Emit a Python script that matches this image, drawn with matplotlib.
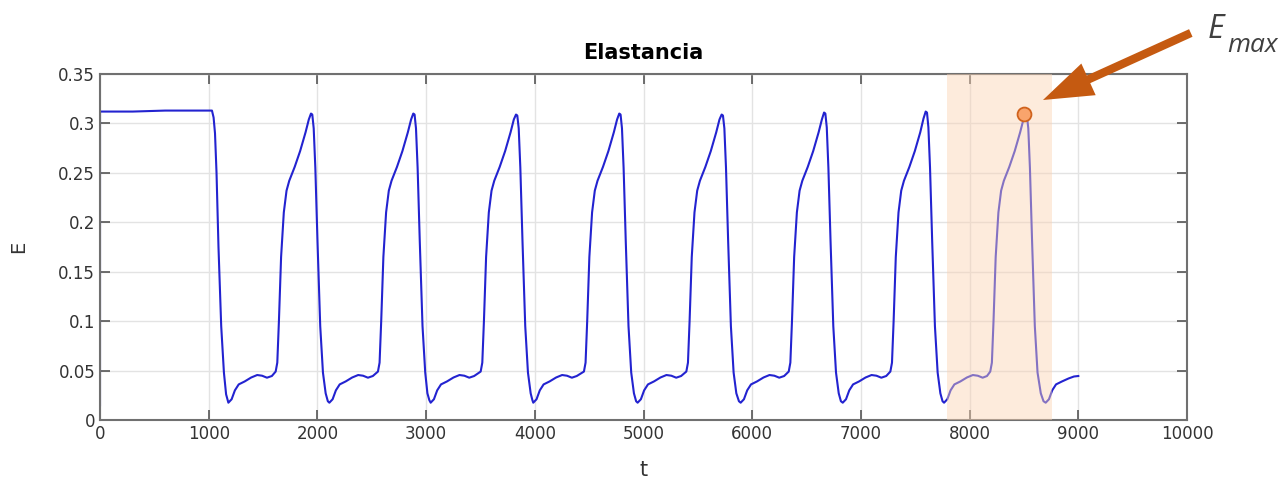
import matplotlib
matplotlib.use("Agg")
import matplotlib.pyplot as plt

# Elastance curve, one block per beat
t_start = [0, 0, 300, 600, 900, 1030, 1045, 1058, 1072, 1090, 1115, 1140, 1160]
e_start = [0.015, 0.312, 0.312, 0.313, 0.313, 0.313, 0.306, 0.290, 0.250, 0.175, 0.095, 0.048, 0.026]

t_c1 = [1181, 1211, 1241, 1276, 1331, 1391, 1446, 1491, 1536, 1581,
        1616, 1631, 1646, 1666, 1691, 1716, 1741, 1791, 1841, 1891, 1921, 1941,
        1953, 1966, 1981, 2001, 2026, 2051, 2076, 2096]
e_c1 = [0.0175, 0.021, 0.030, 0.036, 0.039, 0.043, 0.0455, 0.0448, 0.0428, 0.0445,
        0.049, 0.058, 0.100, 0.165, 0.210, 0.232, 0.242, 0.256, 0.272, 0.291, 0.304, 0.310,
        0.309, 0.295, 0.255, 0.180, 0.095, 0.048, 0.027, 0.019]

t_c2 = [2110, 2140, 2170, 2205, 2260, 2320, 2375, 2420, 2465, 2510,
        2557, 2572, 2587, 2607, 2632, 2657, 2682, 2732, 2782, 2832, 2862, 2882,
        2894, 2907, 2922, 2942, 2967, 2992, 3012, 3030]
e_c2 = [0.0175, 0.021, 0.030, 0.036, 0.039, 0.043, 0.0455, 0.0448, 0.0428, 0.0445,
        0.049, 0.058, 0.100, 0.165, 0.210, 0.232, 0.242, 0.256, 0.272, 0.291, 0.304, 0.310,
        0.309, 0.295, 0.255, 0.180, 0.095, 0.048, 0.027, 0.020]

t_c3 = [3042, 3072, 3102, 3137, 3192, 3252, 3307, 3352, 3397, 3442,
        3502, 3517, 3532, 3552, 3577, 3602, 3627, 3677, 3727, 3777, 3807, 3827,
        3839, 3852, 3867, 3887, 3912, 3937, 3962, 3978]
e_c3 = [0.0175, 0.021, 0.030, 0.036, 0.039, 0.043, 0.0455, 0.0448, 0.0428, 0.0445,
        0.049, 0.058, 0.100, 0.165, 0.210, 0.232, 0.242, 0.256, 0.272, 0.291, 0.304, 0.309,
        0.308, 0.295, 0.255, 0.180, 0.095, 0.048, 0.027, 0.020]

t_c4 = [3986, 4016, 4046, 4081, 4136, 4196, 4251, 4296, 4341, 4386,
        4452, 4467, 4482, 4502, 4527, 4552, 4577, 4627, 4677, 4727, 4757, 4777,
        4789, 4802, 4817, 4837, 4862, 4887, 4912, 4932]
e_c4 = [0.0175, 0.021, 0.030, 0.036, 0.039, 0.043, 0.0455, 0.0448, 0.0428, 0.0445,
        0.049, 0.058, 0.100, 0.165, 0.210, 0.232, 0.242, 0.256, 0.272, 0.291, 0.304, 0.310,
        0.309, 0.295, 0.255, 0.180, 0.095, 0.048, 0.027, 0.019]

t_c5 = [4946, 4976, 5006, 5041, 5096, 5156, 5211, 5256, 5301, 5346,
        5394, 5409, 5424, 5444, 5469, 5494, 5519, 5569, 5619, 5669, 5699, 5719,
        5731, 5744, 5759, 5779, 5804, 5829, 5854, 5878]
e_c5 = [0.0175, 0.021, 0.030, 0.036, 0.039, 0.043, 0.0455, 0.0448, 0.0428, 0.0445,
        0.049, 0.058, 0.100, 0.165, 0.210, 0.232, 0.242, 0.256, 0.272, 0.291, 0.304, 0.309,
        0.308, 0.295, 0.255, 0.180, 0.095, 0.048, 0.027, 0.019]

t_c6 = [5894, 5924, 5954, 5989, 6044, 6104, 6159, 6204, 6249, 6294,
        6336, 6351, 6366, 6386, 6411, 6436, 6461, 6511, 6561, 6611, 6641, 6661,
        6673, 6686, 6701, 6721, 6746, 6771, 6796, 6816]
e_c6 = [0.0175, 0.021, 0.030, 0.036, 0.039, 0.043, 0.0455, 0.0448, 0.0428, 0.0445,
        0.049, 0.058, 0.100, 0.165, 0.210, 0.232, 0.242, 0.256, 0.272, 0.291, 0.304, 0.311,
        0.310, 0.296, 0.255, 0.180, 0.095, 0.048, 0.027, 0.019]

t_c7 = [6833, 6863, 6893, 6928, 6983, 7043, 7098, 7143, 7188, 7233,
        7271, 7286, 7301, 7321, 7346, 7371, 7396, 7446, 7496, 7546, 7576, 7596,
        7608, 7621, 7636, 7656, 7681, 7706, 7731, 7751]
e_c7 = [0.0175, 0.021, 0.030, 0.036, 0.039, 0.043, 0.0455, 0.0448, 0.0428, 0.0445,
        0.049, 0.058, 0.100, 0.165, 0.210, 0.232, 0.242, 0.256, 0.272, 0.291, 0.305, 0.312,
        0.311, 0.296, 0.255, 0.180, 0.095, 0.048, 0.027, 0.019]

t_c8 = [7765, 7795, 7825, 7860, 7915, 7975, 8030, 8075, 8120, 8160,
        8190, 8205, 8220, 8240, 8265, 8290, 8315, 8365, 8415, 8465, 8495, 8515,
        8527, 8540, 8555, 8575, 8600, 8625, 8655, 8680]
e_c8 = [0.0175, 0.021, 0.030, 0.036, 0.039, 0.043, 0.0455, 0.0448, 0.0428, 0.0445,
        0.049, 0.058, 0.100, 0.165, 0.210, 0.232, 0.242, 0.256, 0.272, 0.291, 0.304, 0.309,
        0.308, 0.295, 0.255, 0.180, 0.095, 0.048, 0.027, 0.019]

t_end = [8700, 8730, 8760, 8795, 8850, 8910, 8960, 9000]
e_end = [0.0175, 0.021, 0.030, 0.036, 0.039, 0.042, 0.044, 0.0445]

# highlighted beat and its maximum
span_t = [7795, 8755]
emax_t = 8503
emax_e = 0.310

t = t_start + t_c1 + t_c2 + t_c3 + t_c4 + t_c5 + t_c6 + t_c7 + t_c8 + t_end
E = e_start + e_c1 + e_c2 + e_c3 + e_c4 + e_c5 + e_c6 + e_c7 + e_c8 + e_end

fig = plt.figure(figsize=(12.87, 4.82), dpi=100)
ax = fig.add_axes([100 / 1287, 1 - 420 / 482, 1087 / 1287, 346 / 482])

ax.plot(t, E, color='#2323d0', lw=1.5, zorder=2)
ax.axvspan(span_t[0], span_t[1], color='#fbd3b3', alpha=0.45, lw=0, zorder=3)
ax.plot(emax_t, emax_e, 'o', ms=10, mfc='#f9a46c', mec='#d0621c', mew=1.3, zorder=4)

ax.set_xlim(0, 10000)
ax.set_ylim(0, 0.35)
ax.set_xticks(range(0, 10001, 1000))
ax.set_yticks([0, 0.05, 0.1, 0.15, 0.2, 0.25, 0.3, 0.35])
ax.set_yticklabels(['0', '0.05', '0.1', '0.15', '0.2', '0.25', '0.3', '0.35'])
ax.grid(True, color='#e3e3e3', lw=1)
ax.set_axisbelow(True)
ax.tick_params(direction='in', top=True, right=True, length=7, width=1.2,
               color='#555555', labelsize=12, labelcolor='#333333')
for s in ax.spines.values():
    s.set_color('#707070')
    s.set_linewidth(1.5)

ax.set_title('Elastancia', fontsize=15, fontweight='bold', pad=11)
ax.set_xlabel('t', fontsize=15, color='#333333', labelpad=12)
ax.set_ylabel('E', fontsize=14, color='#333333', labelpad=22)

# arrow pointing at E_max
ax.annotate('', xy=(8675, 0.3237), xytext=(10035, 0.3915), annotation_clip=False,
            arrowprops=dict(arrowstyle='simple,head_length=1.8,head_width=1.25,tail_width=0.3',
                            mutation_scale=20, fc='#c55a11', ec='none',
                            shrinkA=0, shrinkB=0))
fig.text(1208 / 1287, 1 - 38 / 482, 'E', fontsize=23, style='italic',
         family='Open Sans', color='#404040', va='baseline')
fig.text(1227 / 1287, 1 - 52 / 482, 'max', fontsize=19, style='italic',
         family='Open Sans', color='#404040', va='baseline')

fig.savefig('out.png', dpi=100)
